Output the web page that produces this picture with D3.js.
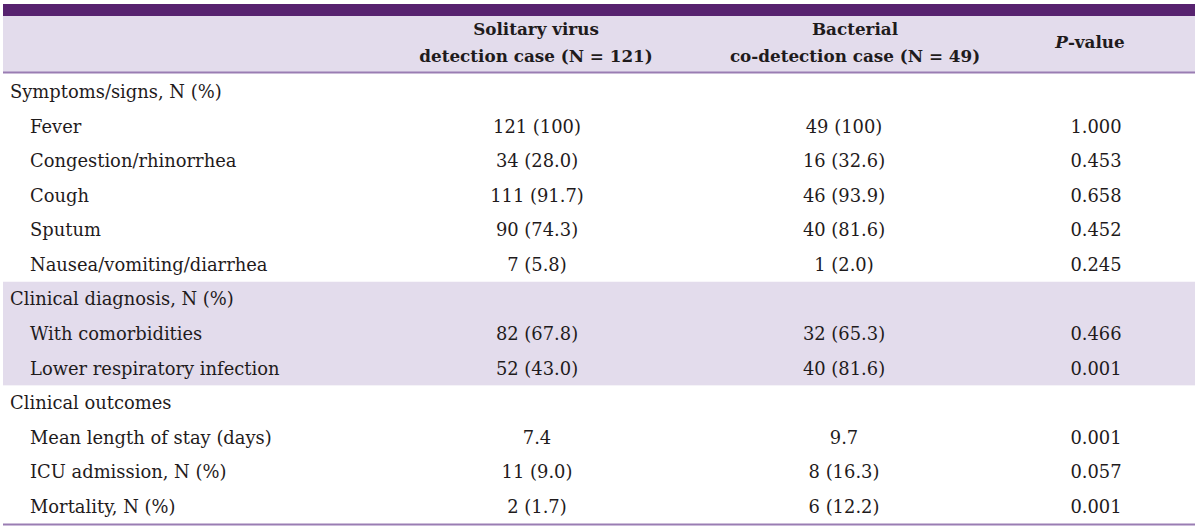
<!DOCTYPE html>
<html>
<head>
<meta charset="utf-8">
<script src="https://cdn.jsdelivr.net/npm/d3@7"></script>
<style>
  html, body { margin: 0; padding: 0; background: #ffffff; }
  svg { display: block; }
  text { font-family: "DejaVu Serif", "Liberation Serif", serif; fill: #1f1b1c; }
</style>
</head>
<body>
<svg id="chart" width="1200" height="530"></svg>
<script>
// ---- data ----
const rowLabels = [
  "Symptoms/signs, N (%)",
  "Fever",
  "Congestion/rhinorrhea",
  "Cough",
  "Sputum",
  "Nausea/vomiting/diarrhea",
  "Clinical diagnosis, N (%)",
  "With comorbidities",
  "Lower respiratory infection",
  "Clinical outcomes",
  "Mean length of stay (days)",
  "ICU admission, N (%)",
  "Mortality, N (%)"
];
const rowIsSection = [true, false, false, false, false, false, true, false, false, true, false, false, false];
const rowGroup = [0, 0, 0, 0, 0, 0, 1, 1, 1, 2, 2, 2, 2];
const shadedGroups = [1];
const solitaryValues = ["", "121 (100)", "34 (28.0)", "111 (91.7)", "90 (74.3)", "7 (5.8)", "", "82 (67.8)", "52 (43.0)", "", "7.4", "11 (9.0)", "2 (1.7)"];
const bacterialValues = ["", "49 (100)", "16 (32.6)", "46 (93.9)", "40 (81.6)", "1 (2.0)", "", "32 (65.3)", "40 (81.6)", "", "9.7", "8 (16.3)", "6 (12.2)"];
const pValues = ["", "1.000", "0.453", "0.658", "0.452", "0.245", "", "0.466", "0.001", "", "0.001", "0.057", "0.001"];
const headerLines = {
  solitary: ["Solitary virus", "detection case (N = 121)"],
  bacterial: ["Bacterial", "co-detection case (N = 49)"]
};

// ---- layout ----
const svg = d3.select("#chart");
const left = 3, right = 1195;
const fontSize = 17.9;
const headSize = 16.8;
const colors = { dark: "#57226f", light: "#e3dcec", rule: "#9a7db3" };

const y = d3.scaleBand().domain(d3.range(rowLabels.length)).range([74.5, 523.5]);
const xData = d3.scaleOrdinal().domain(["solitary", "bacterial", "p"]).range([537, 844, 1096]);
const xHead = d3.scaleOrdinal().domain(["solitary", "bacterial", "p"]).range([536, 855, 1090]);

// top bar and header background
svg.append("rect").attr("x", left).attr("y", 4).attr("width", right - left).attr("height", 12).attr("fill", colors.dark);
svg.append("rect").attr("x", left).attr("y", 16).attr("width", right - left).attr("height", 56).attr("fill", colors.light);
svg.append("rect").attr("x", left).attr("y", 71.5).attr("width", right - left).attr("height", 2).attr("fill", colors.rule);

// shaded group bands
shadedGroups.forEach(g => {
  const idx = d3.range(rowLabels.length).filter(i => rowGroup[i] === g);
  const top = y(d3.min(idx)), bot = y(d3.max(idx)) + y.bandwidth();
  svg.append("rect").attr("x", left).attr("y", top).attr("width", right - left).attr("height", bot - top).attr("fill", colors.light);
});

// bottom rule
svg.append("rect").attr("x", left).attr("y", 523.5).attr("width", right - left).attr("height", 2).attr("fill", colors.rule);

// headers
["solitary", "bacterial"].forEach(k => {
  headerLines[k].forEach((line, j) => {
    svg.append("text")
      .attr("x", xHead(k)).attr("y", j === 0 ? 29 : 56).attr("dy", "0.36em")
      .attr("text-anchor", "middle").attr("font-weight", "bold").attr("font-size", headSize)
      .text(line);
  });
});
const ph = svg.append("text")
  .attr("x", xHead("p")).attr("y", 42).attr("dy", "0.36em")
  .attr("text-anchor", "middle").attr("font-weight", "bold").attr("font-size", headSize);
ph.append("tspan").attr("font-style", "italic").text("P");
ph.append("tspan").text("-value");

// rows
const rows = svg.append("g").selectAll("g").data(d3.range(rowLabels.length)).join("g")
  .attr("transform", i => `translate(0,${y(i) + y.bandwidth() / 2})`);

rows.append("text")
  .attr("x", i => rowIsSection[i] ? 10 : 30)
  .attr("dy", "0.36em").attr("font-size", fontSize)
  .text(i => rowLabels[i]);

const valueSets = { solitary: solitaryValues, bacterial: bacterialValues, p: pValues };
["solitary", "bacterial", "p"].forEach(k => {
  rows.append("text")
    .attr("x", xData(k)).attr("dy", "0.36em").attr("text-anchor", "middle").attr("font-size", fontSize)
    .text(i => valueSets[k][i]);
});
</script>
</body>
</html>
